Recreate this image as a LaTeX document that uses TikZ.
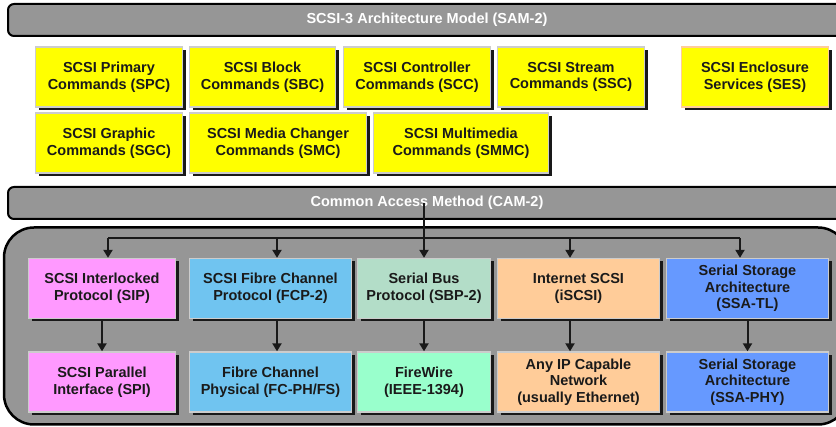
\documentclass[tikz,border=0pt]{standalone}
\usepackage{fontspec}
\setmainfont{Liberation Sans}
\usetikzlibrary{arrows.meta,shadows}

\definecolor{barGray}{HTML}{969696}
\definecolor{cmdYellow}{HTML}{FFFF00}
\definecolor{sipPink}{HTML}{FF99FF}
\definecolor{fcBlue}{HTML}{70C4F0}
\definecolor{sbpGreen}{HTML}{B3DDC8}
\definecolor{fwGreen}{HTML}{99FFCC}
\definecolor{ipPeach}{HTML}{FFCC99}
\definecolor{ssaBlue}{HTML}{6699FF}
\definecolor{txtDark}{HTML}{1A1A1A}

\tikzset{
	BoxStyle/.style = {draw=black!20, line width=1.3pt, fill=#1, inner sep=0pt, align=center,
		text=txtDark, font=\bfseries\fontsize{14.5}{16.7}\selectfont,
		general shadow={fill=black!90, shadow xshift=3pt, shadow yshift=-3pt}},
	BarStyle/.style = {draw=black, line width=2pt, fill=barGray, rounded corners=6pt,
		text=white, font=\bfseries\fontsize{14.5}{16.7}\selectfont,
		minimum width=838, minimum height=32},
	LinkStyle/.style = {line width=2pt, draw=black!90},
	ArrowStyle/.style = {LinkStyle, -{Triangle[width=9pt,length=8pt]}}
}

\begin{document}
\begin{tikzpicture}[x=1pt,y=-1pt]
	\clip (0,0) rectangle (836,427);
	\node[BarStyle] (SAM) at (427,20) {SCSI-3 Architecture Model (SAM-2)};
	\node[BarStyle] (CAM) at (427,203) {Common Access Method (CAM-2)};
	\node[draw=black, line width=2.5pt, fill=barGray, rounded corners=30pt,
		minimum width=844, minimum height=197] (ctr) at (426,326) {};
	% command sets
	\begin{scope}[every node/.append style = {BoxStyle=cmdYellow, minimum height=60}]
		\node[minimum width=147] (SPC) at (109,77) {SCSI Primary\\Commands (SPC)};
		\node[minimum width=146] (SBC) at (262.5,77) {SCSI Block\\Commands (SBC)};
		\node[minimum width=147] (SCC) at (417,77) {SCSI Controller\\Commands (SCC)};
		\node[minimum width=147] (SSC) at (571,77) {SCSI Stream\\Commands (SSC)};
		\node[minimum width=147, draw=ipPeach] (SES) at (755,77) {SCSI Enclosure\\Services (SES)};
		\node[minimum width=147] (SGC) at (109,143) {SCSI Graphic\\Commands (SGC)};
		\node[minimum width=177] (SMC) at (278,143) {SCSI Media Changer\\Commands (SMC)};
		\node[minimum width=175] (SMMC) at (461,143) {SCSI Multimedia\\Commands (SMMC)};
	\end{scope}
	% protocols and interconnects
	\begin{scope}[every node/.append style = {minimum height=60, draw=black!15!sbpGreen}]
		\node[BoxStyle=sipPink, minimum width=147] (SIP) at (102,288.5) {SCSI Interlocked\\Protocol (SIP)};
		\node[BoxStyle=fcBlue, minimum width=162] (FCP) at (270.5,288.5) {SCSI Fibre Channel\\Protocol (FCP-2)};
		\node[BoxStyle=sbpGreen, minimum width=133] (SBP) at (424,288.5) {Serial Bus\\Protocol (SBP-2)};
		\node[BoxStyle=ipPeach, minimum width=162] (iSCSI) at (578.5,288.5) {Internet SCSI\\(iSCSI)};
		\node[BoxStyle=ssaBlue, minimum width=162] (SSATL) at (747.5,288.5) {Serial Storage\\Architecture\\(SSA-TL)};
		\node[BoxStyle=sipPink, minimum width=147] (SPI) at (102,382) {SCSI Parallel\\Interface (SPI)};
		\node[BoxStyle=fcBlue, minimum width=162] (FCPH) at (270.5,382) {Fibre Channel\\Physical (FC-PH/FS)};
		\node[BoxStyle=fwGreen, minimum width=133] (FW) at (424,382) {FireWire\\(IEEE-1394)};
		\node[BoxStyle=ipPeach, minimum width=162] (IP) at (578.5,382) {Any IP Capable\\Network\\(usually Ethernet)};
		\node[BoxStyle=ssaBlue, minimum width=162] (SSAPHY) at (747.5,382) {Serial Storage\\Architecture\\(SSA-PHY)};
	\end{scope}
	\coordinate (busL) at (108,238);
	\coordinate (busR) at (740,238);
	\draw[LinkStyle] (busL) -- (busR);
	\draw[ArrowStyle] (SBP.north |- CAM.center) -- (SBP.north);
	\draw[ArrowStyle] (busL) -- (busL |- SIP.north);
	\draw[ArrowStyle] ([xshift=6.5pt]FCP.north |- busL) -- ([xshift=6.5pt]FCP.north);
	\draw[ArrowStyle] ([xshift=-8.5pt]iSCSI.north |- busL) -- ([xshift=-8.5pt]iSCSI.north);
	\draw[ArrowStyle] (busR) -- (busR |- SSATL.north);
	\draw[ArrowStyle] (SIP) -- (SPI);
	\draw[ArrowStyle] ([xshift=6.5pt]FCP.south) -- ([xshift=6.5pt]FCPH.north);
	\draw[ArrowStyle] (SBP) -- (FW);
	\draw[ArrowStyle] ([xshift=-8.5pt]iSCSI.south) -- ([xshift=-8.5pt]IP.north);
	\draw[ArrowStyle] (SSATL) -- (SSAPHY);
\end{tikzpicture}
\end{document}
